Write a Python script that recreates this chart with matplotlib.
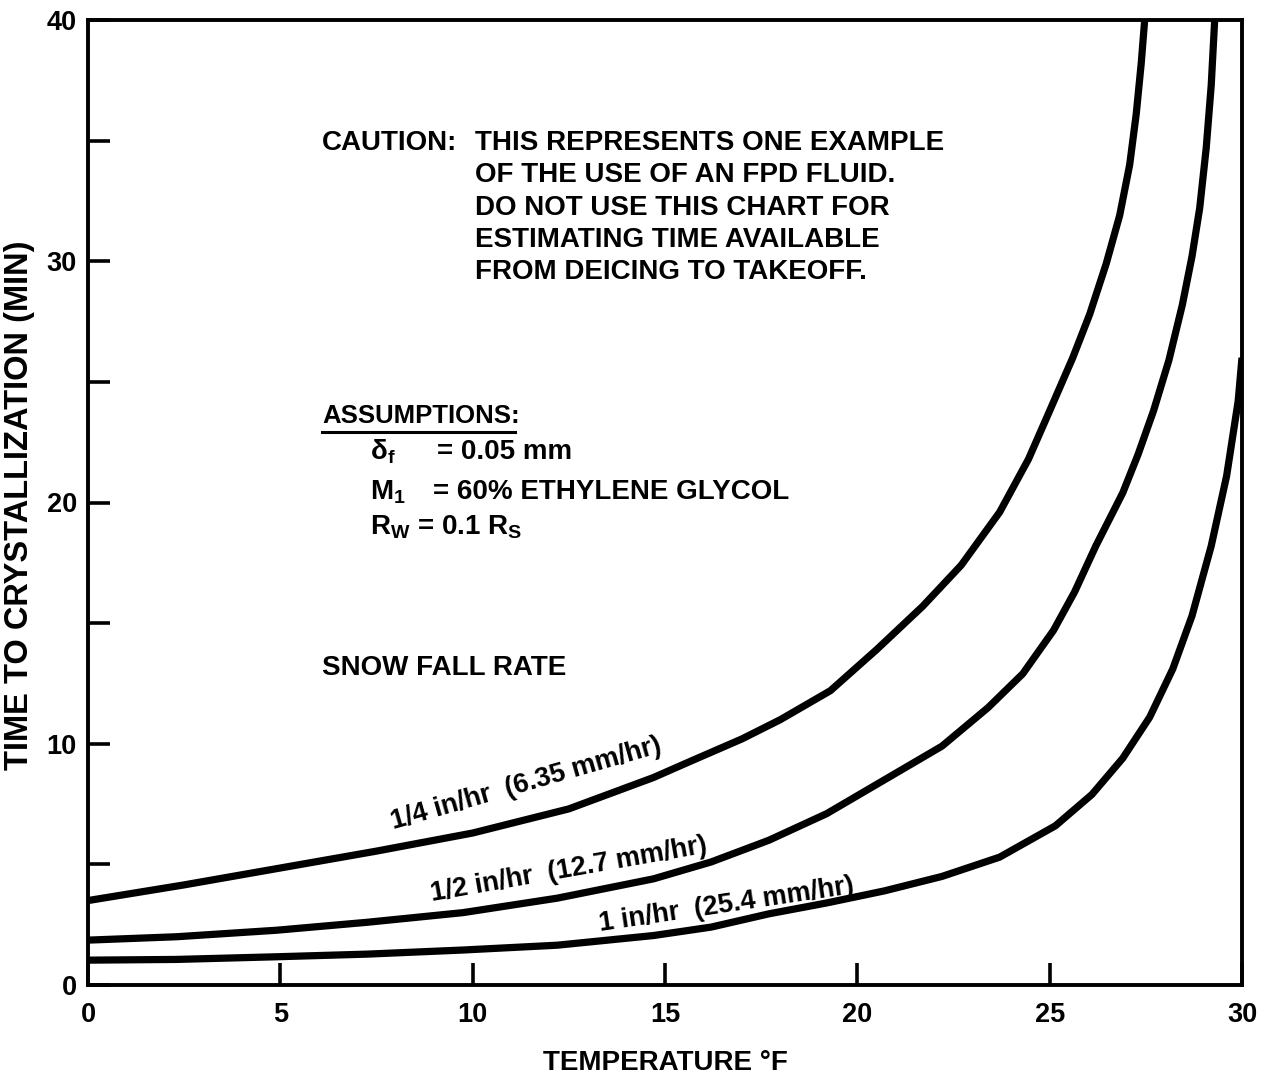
import matplotlib
matplotlib.use("Agg")
import matplotlib.pyplot as plt

# Font setup: bold Helvetica-like look
plt.rcParams['font.family'] = ['Liberation Sans', 'DejaVu Sans']
plt.rcParams['font.weight'] = 'bold'
plt.rcParams['mathtext.fontset'] = 'custom'
plt.rcParams['mathtext.rm'] = 'Liberation Sans:bold'
plt.rcParams['mathtext.it'] = 'Liberation Sans:bold'
plt.rcParams['mathtext.bf'] = 'Liberation Sans:bold'

# Data (temperature °F -> minutes)
temp_quarter = [0, 2.5, 5, 7.5, 10, 12.5, 14.7, 15.7, 17.0, 18.0, 19.3, 20.5, 21.7, 22.7, 23.7,
                24.45, 25.0, 25.6, 26.04, 26.47, 26.82, 27.08, 27.25, 27.38, 27.47]
time_quarter = [3.5, 4.15, 4.85, 5.55, 6.3, 7.3, 8.6, 9.3, 10.2, 11.0, 12.2, 13.9, 15.7, 17.4, 19.6,
                21.8, 23.8, 26.0, 27.8, 29.9, 31.9, 34.0, 36.1, 38.2, 40.0]

temp_half = [0, 2.3, 4.9, 7.26, 9.75, 12.2, 14.7, 16.2, 17.7, 19.2, 20.7, 22.2, 23.4, 24.3, 25.1,
             25.65, 26.2, 26.9, 27.3, 27.7, 28.1, 28.45, 28.7, 28.9, 29.07, 29.2, 29.29]
time_half = [1.86, 2.0, 2.27, 2.6, 3.0, 3.6, 4.4, 5.1, 6.0, 7.1, 8.5, 9.9, 11.5, 12.9, 14.7,
             16.3, 18.2, 20.4, 22.0, 23.8, 25.9, 28.2, 30.2, 32.2, 34.7, 37.3, 40.0]

temp_one = [0, 2.3, 4.9, 7.26, 9.75, 12.2, 14.7, 16.2, 17.7, 19.2, 20.7, 22.2, 23.7, 25.15, 26.1,
            26.9, 27.6, 28.2, 28.7, 29.2, 29.6, 29.9, 30.0]
time_one = [1.03, 1.06, 1.17, 1.28, 1.45, 1.65, 2.05, 2.4, 2.95, 3.4, 3.9, 4.5, 5.3, 6.6, 7.9,
            9.4, 11.1, 13.1, 15.3, 18.2, 21.1, 24.2, 26.0]

x_ticks = [0, 5, 10, 15, 20, 25, 30]
y_ticks = [0, 10, 20, 30, 40]
y_minor = [5, 15, 25, 35]

caution_lines = [
    "THIS REPRESENTS ONE EXAMPLE",
    "OF THE USE OF AN FPD FLUID.",
    "DO NOT USE THIS CHART FOR",
    "ESTIMATING TIME AVAILABLE",
    "FROM DEICING TO TAKEOFF.",
]

fig = plt.figure(figsize=(12.61, 10.77), dpi=100)
ax = fig.add_axes([88 / 1261, 1 - 985 / 1077, (1242 - 88) / 1261, (985 - 20) / 1077])

for xs, ys in [(temp_quarter, time_quarter), (temp_half, time_half), (temp_one, time_one)]:
    ax.plot(xs, ys, color='black', lw=5.2, solid_capstyle='butt', solid_joinstyle='round')

ax.set_xlim(0, 30)
ax.set_ylim(0, 40)
for s in ax.spines.values():
    s.set_linewidth(2.8)

ax.set_xticks(x_ticks)
ax.set_yticks(y_ticks)
ax.set_yticks(y_minor, minor=True)
ax.tick_params(axis='both', which='both', direction='in', length=16, width=2.6, labelsize=19.5)
ax.tick_params(axis='x', pad=12)
ax.tick_params(axis='y', pad=8)
for lab in ax.get_xticklabels() + ax.get_yticklabels():
    lab.set_fontweight('bold')

fig.text(665 / 1261, 1 - 1063 / 1077, "TEMPERATURE °F", fontsize=20, fontweight='bold',
         ha='center', va='center')
fig.text(20 / 1261, 1 - 505 / 1077, "TIME TO CRYSTALLIZATION (MIN)", fontsize=23.5,
         fontweight='bold', ha='center', va='center', rotation=90)

# Annotations (figure pixel coords converted to axes fractions)
def fx(px):
    return (px - 88) / (1242 - 88)

def fy(py):
    return (985 - py) / (985 - 20)

txt = dict(fontsize=20, fontweight='bold', transform=ax.transAxes, va='center', ha='left')
ax.text(fx(322), fy(143), "CAUTION:", **txt)
for i, line in enumerate(caution_lines):
    ax.text(fx(475), fy(143 + i * 32.3), line, **txt)

ax.text(fx(322), fy(416), "ASSUMPTIONS:", fontsize=18.5, fontweight='bold',
        transform=ax.transAxes, va='center', ha='left')
ax.plot([fx(322), fx(515)], [fy(432), fy(432)], color='black', lw=2.2, transform=ax.transAxes,
        clip_on=False)
ax.text(fx(370), fy(452), "δ$_f$", **txt)
ax.text(fx(437), fy(452), "= 0.05 mm", **txt)
ax.text(fx(370), fy(492), "M$_1$", **txt)
ax.text(fx(433), fy(492), "= 60% ETHYLENE GLYCOL", **txt)
ax.text(fx(370), fy(527), "R$_W$ = 0.1 R$_S$", **txt)

ax.text(fx(322), fy(668), "SNOW FALL RATE", **txt)

lbl = dict(fontsize=19.5, fontweight='bold', ha='center', va='center', rotation_mode='anchor')
ax.text(11.4, 8.35, "1/4 in/hr  (6.35 mm/hr)", rotation=16, **lbl)
ax.text(12.5, 4.78, "1/2 in/hr  (12.7 mm/hr)", rotation=10, **lbl)
ax.text(16.6, 3.3, "1 in/hr  (25.4 mm/hr)", rotation=8.5, **lbl)

fig.savefig("out.png", dpi=100)
